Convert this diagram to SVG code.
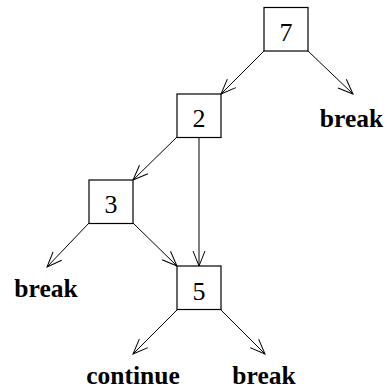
<svg xmlns="http://www.w3.org/2000/svg" width="386" height="390" viewBox="0 0 386 390">
<style>
.box{fill:#fff;stroke:#000;stroke-width:1.2}
.num{font-family:"Liberation Serif",serif;font-size:26px;text-anchor:middle;fill:#000}
.lbl{font-family:"Liberation Serif",serif;font-size:25.5px;font-weight:bold;text-anchor:middle;fill:#000}
.edge{stroke:#000;stroke-width:1;fill:none;marker-end:url(#ah)}
</style>
<defs>
<marker id="ah" markerUnits="userSpaceOnUse" viewBox="-16 -8 18 16" refX="0" refY="0" markerWidth="18" markerHeight="16" orient="auto">
<path d="M-15,-6 L0,0 L-15,6" fill="none" stroke="#000" stroke-width="1"/>
</marker>
</defs>
<g id="connectors">
<line class="edge" x1="264" y1="51" x2="221" y2="94"/>
<line class="edge" x1="308" y1="51" x2="353" y2="94"/>
<line class="edge" x1="177" y1="137" x2="133" y2="180"/>
<line class="edge" x1="199" y1="137" x2="199" y2="266"/>
<line class="edge" x1="89" y1="223" x2="47" y2="267"/>
<line class="edge" x1="133" y1="223" x2="177" y2="266"/>
<line class="edge" x1="177" y1="310" x2="133" y2="354"/>
<line class="edge" x1="221" y1="310" x2="265" y2="354"/>
</g>
<g id="n7"><rect class="box" x="264" y="7.5" width="44" height="43.5"/><text class="num" x="286" y="41">7</text></g>
<g id="n2"><rect class="box" x="177" y="94" width="44" height="43.5"/><text class="num" x="199" y="127">2</text></g>
<g id="n3"><rect class="box" x="89" y="180" width="44" height="43.5"/><text class="num" x="111" y="213">3</text></g>
<g id="n5"><rect class="box" x="177" y="266" width="44" height="43.5"/><text class="num" x="199" y="299.5">5</text></g>
<g id="lbl1"><text class="lbl" x="351.5" y="126.5">break</text></g>
<g id="lbl2"><text class="lbl" x="46" y="296.5">break</text></g>
<g id="lbl3"><text class="lbl" x="133" y="384">continue</text></g>
<g id="lbl4"><text class="lbl" x="264" y="384">break</text></g>
</svg>
